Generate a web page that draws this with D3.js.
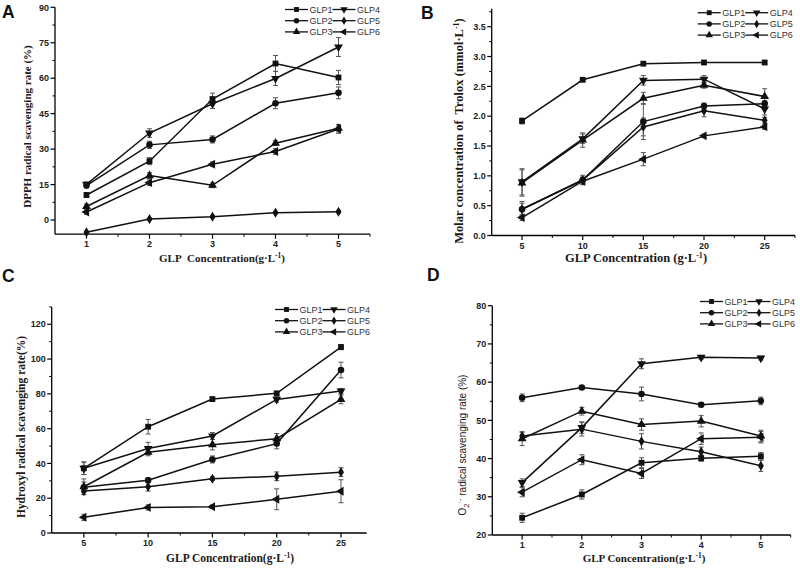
<!DOCTYPE html>
<html><head><meta charset="utf-8">
<script src="https://cdn.jsdelivr.net/npm/d3@7/dist/d3.min.js"></script>
<style>body{margin:0;background:#fff}</style></head>
<body>
<svg id="chart" width="800" height="572"></svg>
<script>
// ---------------- DATA ----------------
const seriesNames = ["GLP1", "GLP2", "GLP3", "GLP4", "GLP5", "GLP6"];

// Panel A: DPPH
const dpphX = [1, 2, 3, 4, 5];
const dpphValues = [
  [10.6, 24.9, 51.2, 66.2, 60.3],   // GLP1
  [14.6, 31.8, 34.1, 49.4, 53.8],   // GLP2
  [5.7, 18.8, 14.7, 32.5, 38.8],    // GLP3
  [15.1, 36.8, 49.2, 59.9, 73.2],   // GLP4
  [-5.2, 0.4, 1.4, 3.1, 3.5],       // GLP5
  [3.4, 15.8, 23.6, 29.0, 38.5]     // GLP6
];
const dpphErrors = [
  [1.0, 1.5, 2.5, 3.4, 3.0],
  [1.0, 1.5, 1.5, 2.3, 2.5],
  [1.0, 1.2, 1.0, 1.0, 1.5],
  [1.0, 1.8, 2.0, 3.0, 4.0],
  [0.5, 0.5, 0.5, 0.5, 0.5],
  [1.0, 1.2, 1.0, 1.2, 1.8]
];
const dpphYTicks = [0, 15, 30, 45, 60, 75, 90];

// Panel B: Trolox
const troloxX = [5, 10, 15, 20, 25];
const troloxValues = [
  [1.92, 2.61, 2.88, 2.90, 2.90],   // GLP1
  [0.44, 0.93, 1.91, 2.17, 2.21],   // GLP2
  [0.88, 1.60, 2.30, 2.52, 2.33],   // GLP3
  [0.90, 1.62, 2.60, 2.62, 2.12],   // GLP4
  [0.44, 0.93, 1.82, 2.09, 1.93],   // GLP5
  [0.30, 0.91, 1.28, 1.67, 1.82]    // GLP6
];
const troloxErrors = [
  [0.05, 0.03, 0.03, 0.03, 0.03],
  [0.13, 0.05, 0.30, 0.05, 0.05],
  [0.22, 0.12, 0.10, 0.05, 0.13],
  [0.22, 0.08, 0.08, 0.06, 0.10],
  [0.10, 0.08, 0.15, 0.10, 0.05],
  [0.05, 0.05, 0.11, 0.03, 0.04]
];
const troloxYTicks = [0.0, 0.5, 1.0, 1.5, 2.0, 2.5, 3.0, 3.5];

// Panel C: Hydroxyl
const hydroxylX = [5, 10, 15, 20, 25];
const hydroxylValues = [
  [37.2, 61.1, 77.0, 80.3, 106.9],  // GLP1
  [26.3, 30.3, 42.3, 51.4, 93.7],   // GLP2
  [26.6, 46.4, 50.8, 54.2, 76.8],   // GLP3
  [37.2, 48.6, 55.8, 76.8, 81.6],   // GLP4
  [24.1, 26.6, 31.2, 32.6, 35.0],   // GLP5
  [9.0, 14.7, 15.1, 19.4, 24.0]     // GLP6
];
const hydroxylErrors = [
  [3.6, 4.2, 1.0, 1.0, 1.5],
  [3.0, 1.5, 2.0, 3.0, 4.5],
  [4.5, 2.0, 3.0, 3.0, 2.5],
  [3.6, 3.5, 2.0, 1.5, 1.5],
  [2.0, 2.5, 1.0, 2.5, 2.5],
  [1.8, 1.5, 1.0, 6.0, 6.6]
];
const hydroxylYTicks = [0, 20, 40, 60, 80, 100, 120];

// Panel D: Superoxide
const superoxideX = [1, 2, 3, 4, 5];
const superoxideValues = [
  [24.5, 30.6, 38.9, 40.1, 40.6],   // GLP1
  [55.9, 58.6, 56.9, 54.1, 55.1],   // GLP2
  [45.2, 52.4, 48.9, 49.8, 45.9],   // GLP3
  [33.7, 48.1, 64.8, 66.5, 66.3],   // GLP4
  [45.9, 47.7, 44.5, 41.8, 38.1],   // GLP5
  [31.2, 39.7, 36.1, 45.2, 45.6]    // GLP6
];
const superoxideErrors = [
  [1.2, 1.2, 1.3, 0.8, 1.0],
  [1.0, 0.5, 1.8, 0.5, 1.0],
  [1.8, 1.0, 1.5, 1.5, 1.5],
  [1.0, 1.5, 1.3, 0.5, 0.5],
  [1.0, 1.8, 2.0, 1.2, 1.5],
  [1.2, 1.3, 1.3, 1.5, 1.5]
];
const superoxideYTicks = [20, 30, 40, 50, 60, 70, 80];

// ---------------- DRAWING ----------------
const svg = d3.select("#chart");
const TITLE_FONT = "'Liberation Serif','Times New Roman',serif";
const SANS = "'Liberation Sans',Arial,sans-serif";

const markerSpec = [
  {type: d3.symbolSquare, rot: 0, size: 34},
  {type: d3.symbolCircle, rot: 0, size: 34},
  {type: d3.symbolTriangle, rot: 0, size: 34},
  {type: d3.symbolTriangle, rot: 180, size: 34},
  {type: d3.symbolDiamond, rot: 0, size: 30},
  {type: d3.symbolTriangle, rot: -90, size: 34}
];

function marker(g, i, x, y, scale) {
  const m = markerSpec[i];
  g.append("path")
    .attr("d", d3.symbol().type(m.type).size(m.size * (scale || 1))())
    .attr("transform", `translate(${x},${y}) rotate(${m.rot})`)
    .attr("fill", "#111");
}

function addTextParts(t, parts) {
  parts.forEach(p => {
    const ts = t.append("tspan").text(p.t);
    if (p.dy) ts.attr("dy", p.dy);
    if (p.size) ts.attr("font-size", p.size);
  });
}

const panels = [
  {letter: "A", lx: 2, ly: 18,
   xs: dpphX, values: dpphValues, errors: dpphErrors,
   xDomain: [0.5, 5.5], xRange: [55, 370], xTicks: dpphX, xMinorStep: 0.5,
   yDomain: [-6, 90], yRange: [234.2, 7.3], yTicks: dpphYTicks, yMinorStep: 7.5, yFmt: d => d,
   xTitle: [{t: "GLP\u00A0 Concentration(g·L"}, {t: "-1", dy: -4, size: 7.5}, {t: ")", dy: 4}],
   xTitleX: 222, xTitleY: 262, titleSize: 11,
   yTitle: [{t: "DPPH radical scavenging rate (%)"}], yTitleX: 31, yTitleY: 126.5, yTitleSans: false,
   legX: 285, legY: 9.5},
  {letter: "B", lx: 421, ly: 18.5,
   xs: troloxX, values: troloxValues, errors: troloxErrors,
   xDomain: [2.5, 27.5], xRange: [491.7, 795], xTicks: troloxX, xMinorStep: 2.5,
   yDomain: [0, 3.8], yRange: [235.5, 8.8], yTicks: troloxYTicks, yMinorStep: 0.25, yFmt: d3.format(".1f"),
   xTitle: [{t: "GLP Concentration (g·L"}, {t: "-1", dy: -4, size: 8}, {t: ")", dy: 4}],
   xTitleX: 636, xTitleY: 262, titleSize: 12.5,
   yTitle: [{t: "Molar concentration of\u00A0 Trolox (mmol·L"}, {t: "-1", dy: -4, size: 8}, {t: ")", dy: 4}],
   yTitleX: 463, yTitleY: 131, yTitleSans: false,
   legX: 697.7, legY: 12.7},
  {letter: "C", lx: 2, ly: 282,
   xs: hydroxylX, values: hydroxylValues, errors: hydroxylErrors,
   xDomain: [2.5, 27], xRange: [51.7, 366.7], xTicks: hydroxylX, xMinorStep: 2.5,
   yDomain: [0, 130], yRange: [533, 306.9], yTicks: hydroxylYTicks, yMinorStep: 10, yFmt: d => d,
   xTitle: [{t: "GLP Concentration(g·L"}, {t: "-1", dy: -4, size: 7.5}, {t: ")", dy: 4}],
   xTitleX: 230, xTitleY: 562, titleSize: 11.5,
   yTitle: [{t: "Hydroxyl radical scavenging rate(%)"}], yTitleX: 25, yTitleY: 427, yTitleSans: false,
   legX: 275, legY: 309.5},
  {letter: "D", lx: 427, ly: 281,
   xs: superoxideX, values: superoxideValues, errors: superoxideErrors,
   xDomain: [0.5, 5.5], xRange: [492.3, 790.7], xTicks: superoxideX, xMinorStep: 0.5,
   yDomain: [20, 80], yRange: [535, 305.7], yTicks: superoxideYTicks, yMinorStep: 5, yFmt: d => d,
   xTitle: [{t: "GLP Concentration(g·L"}, {t: "-1", dy: -4, size: 7.5}, {t: ")", dy: 4}],
   xTitleX: 644, xTitleY: 562, titleSize: 11,
   yTitle: [{t: "O"}, {t: "2", dy: 3, size: 7.5}, {t: "·-", dy: -7, size: 7.5}, {t: " radical scavenging rate (%)", dy: 4}],
   yTitleX: 466, yTitleY: 445, yTitleSans: true,
   legX: 700, legY: 301.5}
];

panels.forEach(p => {
  const g = svg.append("g");
  const x = d3.scaleLinear().domain(p.xDomain).range(p.xRange);
  const y = d3.scaleLinear().domain(p.yDomain).range(p.yRange);
  const x0 = p.xRange[0], yb = p.yRange[0];

  g.append("text").attr("x", p.lx).attr("y", p.ly).text(p.letter)
    .attr("font-family", SANS).attr("font-weight", "bold").attr("font-size", 17.5).attr("fill", "#111");

  g.append("line").attr("x1", x0).attr("x2", x0).attr("y1", p.yRange[1]).attr("y2", yb)
    .attr("stroke", "#000").attr("stroke-width", 1.3);
  g.append("line").attr("x1", x0).attr("x2", p.xRange[1]).attr("y1", yb).attr("y2", yb)
    .attr("stroke", "#000").attr("stroke-width", 1.3);

  const xMin = d3.range(p.xDomain[0] + p.xMinorStep, p.xDomain[1] + 1e-9, p.xMinorStep)
    .filter(v => !p.xTicks.some(t => Math.abs(t - v) < 1e-6));
  g.selectAll(null).data(xMin).join("line")
    .attr("x1", d => x(d)).attr("x2", d => x(d)).attr("y1", yb).attr("y2", yb + 2.5)
    .attr("stroke", "#000").attr("stroke-width", 1);
  const yMin = d3.range(p.yTicks[0] + p.yMinorStep, p.yDomain[1] + 1e-9, p.yMinorStep)
    .filter(v => !p.yTicks.some(t => Math.abs(t - v) < 1e-6));
  g.selectAll(null).data(yMin).join("line")
    .attr("x1", x0).attr("x2", x0 - 2.5).attr("y1", d => y(d)).attr("y2", d => y(d))
    .attr("stroke", "#000").attr("stroke-width", 1);

  g.selectAll(null).data(p.xTicks).join("line")
    .attr("x1", d => x(d)).attr("x2", d => x(d)).attr("y1", yb).attr("y2", yb + 4.5)
    .attr("stroke", "#000").attr("stroke-width", 1.2);
  g.selectAll(null).data(p.yTicks).join("line")
    .attr("x1", x0).attr("x2", x0 - 4.5).attr("y1", d => y(d)).attr("y2", d => y(d))
    .attr("stroke", "#000").attr("stroke-width", 1.2);

  g.selectAll(null).data(p.xTicks).join("text")
    .attr("x", d => x(d)).attr("y", yb + 13).attr("text-anchor", "middle")
    .attr("font-family", SANS).attr("font-weight", "bold").attr("font-size", 9).attr("fill", "#222")
    .text(d => d);
  g.selectAll(null).data(p.yTicks).join("text")
    .attr("x", x0 - 6).attr("y", d => y(d) + 3.2).attr("text-anchor", "end")
    .attr("font-family", SANS).attr("font-weight", "bold").attr("font-size", 9).attr("fill", "#222")
    .text(d => p.yFmt(d));

  const xt = g.append("text").attr("x", p.xTitleX).attr("y", p.xTitleY).attr("text-anchor", "middle")
    .attr("font-family", TITLE_FONT).attr("font-weight", "bold").attr("font-size", p.titleSize).attr("fill", "#1a1a1a");
  addTextParts(xt, p.xTitle);
  const yt = g.append("text").attr("transform", `translate(${p.yTitleX},${p.yTitleY}) rotate(-90)`)
    .attr("text-anchor", "middle")
    .attr("font-family", p.yTitleSans ? SANS : TITLE_FONT)
    .attr("font-weight", p.yTitleSans ? "normal" : "bold")
    .attr("font-size", p.yTitleSans ? 10 : p.titleSize).attr("fill", "#1a1a1a");
  addTextParts(yt, p.yTitle);

  const line = d3.line().x(d => x(d[0])).y(d => y(d[1]));
  p.values.forEach((vals, si) => {
    const pts = p.xs.map((xv, i) => [xv, vals[i], p.errors[si][i]]);
    g.append("path").datum(pts).attr("d", line)
      .attr("fill", "none").attr("stroke", "#111").attr("stroke-width", 1.5);
    pts.forEach(d => {
      const cx = x(d[0]), y1 = y(d[1] - d[2]), y2 = y(d[1] + d[2]);
      g.append("line").attr("x1", cx).attr("x2", cx).attr("y1", y1).attr("y2", y2)
        .attr("stroke", "#555").attr("stroke-width", 1);
      [y1, y2].forEach(yy => g.append("line").attr("x1", cx - 2.5).attr("x2", cx + 2.5)
        .attr("y1", yy).attr("y2", yy).attr("stroke", "#555").attr("stroke-width", 1));
    });
  });
  p.values.forEach((vals, si) => {
    p.xs.forEach((xv, i) => marker(g, si, x(xv), y(vals[i])));
  });

  seriesNames.forEach((name, si) => {
    const col = Math.floor(si / 3), row = si % 3;
    const lx = p.legX + col * 47.5, ly = p.legY + row * 11.2;
    g.append("line").attr("x1", lx).attr("x2", lx + 23).attr("y1", ly).attr("y2", ly)
      .attr("stroke", "#111").attr("stroke-width", 1.3);
    marker(g, si, lx + 11.5, ly, 0.7);
    g.append("text").attr("x", lx + 24.5).attr("y", ly + 3.3).text(name)
      .attr("font-family", SANS).attr("font-size", 9).attr("fill", "#333");
  });
});
</script>
</body></html>
